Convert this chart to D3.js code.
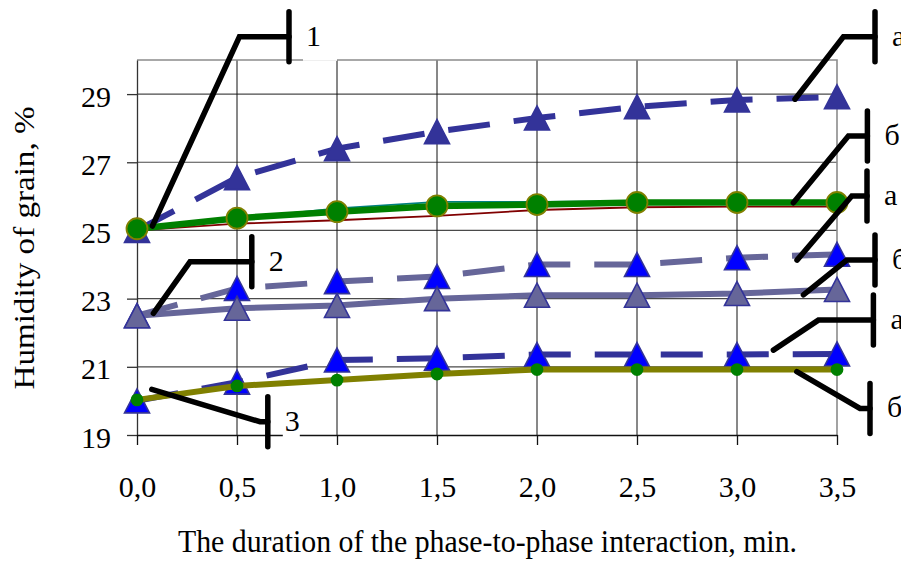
<!DOCTYPE html>
<html>
<head>
<meta charset="utf-8">
<script src="https://cdn.jsdelivr.net/npm/d3@7"></script>
<style>
  body { margin: 0; background: #fff; }
  svg { display: block; font-family: "Liberation Serif", "Times New Roman", serif; }
</style>
</head>
<body>
<svg id="chart" width="901" height="561"></svg>
<script>
// x values (minutes) and y ticks
var minutes = [0, 0.5, 1, 1.5, 2, 2.5, 3, 3.5];
var yTicks = [19, 21, 23, 25, 27, 29];

// series
var hum1a = [25.0, 26.55, 27.4, 27.9, 28.3, 28.63, 28.83, 28.92];
var hum1red = [25.0, 25.2, 25.3, 25.43, 25.6, 25.68, 25.7, 25.7];
var hum1teal = [25.0, 25.35, 25.65, 25.84, 25.84, 25.86, 25.86, 25.86];
var hum1b = [25.05, 25.36, 25.55, 25.72, 25.76, 25.82, 25.82, 25.82];
var hum2a = [22.5, 23.3, 23.5, 23.65, 24.0, 24.0, 24.2, 24.3];
var hum2b = [22.5, 22.72, 22.8, 23.0, 23.1, 23.1, 23.15, 23.27];
var hum3a = [20.0, 20.55, 21.2, 21.25, 21.36, 21.36, 21.36, 21.38];
var hum3b = [20.03, 20.44, 20.61, 20.79, 20.92, 20.92, 20.92, 20.92];

// callouts: label, start point, elbow, x of the end bar (data units)
var calloutLabels = ["1", "2", "3", "а", "б", "а", "б", "а", "б"];
var calloutFrom = [[0.077, 25.13], [0.082, 22.57], [0.074, 20.34], [3.29, 28.85], [3.282, 25.81], [3.30, 24.13], [3.332, 23.11], [3.182, 21.49], [3.299, 20.86]];
var calloutElbow = [[0.512, 30.68], [0.265, 24.08], [0.615, 19.39], [3.532, 30.68], [3.557, 27.77], [3.574, 26.01], [3.549, 24.13], [3.407, 22.37], [3.615, 19.78]];
var calloutBar = [0.76, 0.574, 0.654, 3.69, 3.652, 3.65, 3.69, 3.682, 3.665];

var svg = d3.select("#chart");
var x = d3.scaleLinear().domain([0, 3.5]).range([137, 837]);
var y = d3.scaleLinear().domain([19, 30]).range([435, 60]);

// grid
svg.append("g").selectAll("line").data(yTicks.slice(1)).enter().append("line")
  .attr("x1", x(0)).attr("x2", x(3.5))
  .attr("y1", function(d) { return y(d); }).attr("y2", function(d) { return y(d); })
  .attr("stroke", "#4a4a4a").attr("stroke-width", 1.2);
svg.append("g").selectAll("line").data(minutes.slice(1, 7)).enter().append("line")
  .attr("x1", function(d) { return x(d); }).attr("x2", function(d) { return x(d); })
  .attr("y1", y(30)).attr("y2", y(19))
  .attr("stroke", "#111").attr("stroke-width", 1);
// top and right border
svg.append("path")
  .attr("d", "M" + x(0) + "," + y(30) + "H" + x(3.5) + "V" + y(19))
  .attr("fill", "none").attr("stroke", "#8c8c8c").attr("stroke-width", 1.6);

// axes
var yAxis = d3.axisLeft(y).tickValues(yTicks).tickSize(10).tickSizeOuter(0).tickPadding(16);
var gy = svg.append("g").attr("transform", "translate(" + x(0) + ",0)").call(yAxis);
gy.selectAll("text").attr("font-size", 30).attr("font-family", "Liberation Serif").attr("dy", "0.4em").attr("fill", "#000");
gy.selectAll("line,path").attr("stroke", "#333").attr("stroke-width", 1.3);

var xAxis = d3.axisBottom(x).tickValues(minutes).tickSize(10).tickSizeOuter(0).tickPadding(31)
  .tickFormat(function(d) { return d3.format(".1f")(d).replace(".", ","); });
var gx = svg.append("g").attr("transform", "translate(0," + y(19) + ")").call(xAxis);
gx.selectAll("text").attr("font-size", 30).attr("font-family", "Liberation Serif").attr("fill", "#000");
gx.selectAll("line,path").attr("stroke", "#111").attr("stroke-width", 1.3);

// axis titles
svg.append("text")
  .attr("transform", "translate(34,248) rotate(-90)")
  .attr("text-anchor", "middle").attr("font-size", 30)
  .attr("textLength", 283).attr("lengthAdjust", "spacingAndGlyphs")
  .text("Humidity of grain, %");
svg.append("text")
  .attr("x", 487.5).attr("y", 552)
  .attr("text-anchor", "middle").attr("font-size", 32)
  .attr("textLength", 619).attr("lengthAdjust", "spacingAndGlyphs")
  .text("The duration of the phase-to-phase interaction, min.");

// series
var line = d3.line()
  .x(function(d, i) { return x(minutes[i]); })
  .y(function(d) { return y(d); });

function tri(w, h) {
  return "M0," + (-h / 2) + "L" + (w / 2) + "," + (h / 2) + "L" + (-w / 2) + "," + (h / 2) + "Z";
}

var series = [
  { v: hum1a, color: "#333399", width: 6, dash: "42,24", marker: "tri", fill: "#333399", stroke: "#333399" },
  { v: hum1red, color: "#800000", width: 1.8 },
  { v: hum1teal, color: "#008080", width: 1.8 },
  { v: hum1b, color: "#008000", width: 6.5, marker: "circle", r: 10.5, fill: "#008000", stroke: "#808000" },
  { v: hum2a, color: "#666699", width: 6, dash: "42,24", marker: "tri", fill: "#0000ff", stroke: "#333399" },
  { v: hum2b, color: "#666699", width: 6, marker: "tri", fill: "#666699", stroke: "#333399" },
  { v: hum3a, color: "#333399", width: 6, dash: "42,24", marker: "tri", fill: "#0000ff", stroke: "#333399" },
  { v: hum3b, color: "#808000", width: 6, marker: "circle", r: 5.5, fill: "#008000", stroke: "#008000" }
];

series.forEach(function(s) {
  var g = svg.append("g");
  g.append("path").datum(s.v)
    .attr("d", line)
    .attr("fill", "none")
    .attr("stroke", s.color)
    .attr("stroke-width", s.width)
    .attr("stroke-dasharray", s.dash || null);
  if (s.marker == "tri") {
    g.selectAll("path.m").data(s.v).enter().append("path")
      .attr("class", "m")
      .attr("d", tri(25, 24))
      .attr("transform", function(d, i) { return "translate(" + x(minutes[i]) + "," + y(d) + ")"; })
      .attr("fill", s.fill).attr("stroke", s.stroke).attr("stroke-width", 1.6);
  } else if (s.marker == "circle") {
    g.selectAll("circle").data(s.v).enter().append("circle")
      .attr("cx", function(d, i) { return x(minutes[i]); })
      .attr("cy", function(d) { return y(d); })
      .attr("r", s.r)
      .attr("fill", s.fill).attr("stroke", s.stroke).attr("stroke-width", 1.8);
  }
});

// white boxes behind labels 1 and 3
var boxes = { "1": [14, 48], "3": [15, 32] };
calloutLabels.forEach(function(lab, i) {
  if (!boxes[lab]) return;
  var bx = x(calloutBar[i]);
  var ey = y(calloutElbow[i][1]);
  svg.append("rect")
    .attr("x", bx + boxes[lab][0]).attr("y", ey - 22)
    .attr("width", boxes[lab][1] - boxes[lab][0]).attr("height", 46)
    .attr("fill", "#fff");
});

// callout lines
var cg = svg.append("g").attr("fill", "none").attr("stroke", "#000")
  .attr("stroke-width", 5.5).attr("stroke-linecap", "round");
calloutLabels.forEach(function(lab, i) {
  var ey = y(calloutElbow[i][1]);
  var bx = x(calloutBar[i]);
  cg.append("path")
    .attr("d", "M" + x(calloutFrom[i][0]) + "," + y(calloutFrom[i][1]) +
      "L" + x(calloutElbow[i][0]) + "," + ey + "L" + bx + "," + ey);
  cg.append("line")
    .attr("x1", bx).attr("x2", bx)
    .attr("y1", ey - 25).attr("y2", ey + 25);
  svg.append("text")
    .attr("x", bx + 17).attr("y", ey)
    .attr("dy", "0.3em")
    .attr("font-size", 30)
    .text(lab);
});
</script>
</body>
</html>
